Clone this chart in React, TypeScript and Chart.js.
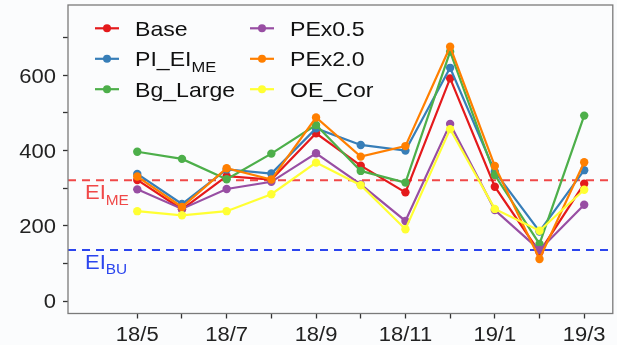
import React, { useEffect, useRef } from 'react';
import { Chart, registerables } from 'chart.js';

Chart.register(...registerables);

const months = ['18/5', '18/6', '18/7', '18/8', '18/9', '18/10', '18/11', '18/12', '19/1', '19/2', '19/3'];
const yTicks = [0, 100, 200, 300, 400, 500, 600, 700];

const base = [322, 244, 332, 323, 446, 360, 289, 592, 304, 130, 312];
const piEiMe = [338, 258, 350, 339, 459, 415, 400, 620, 344, 185, 348];
const bgLarge = [397, 378, 324, 392, 468, 346, 315, 663, 335, 152, 493];
const pex05 = [297, 245, 298, 317, 393, 310, 213, 471, 242, 136, 256];
const pex20 = [331, 250, 353, 323, 488, 384, 412, 676, 359, 112, 369];
const oeCor = [239, 228, 239, 284, 368, 308, 191, 457, 245, 187, 296];

const eiMe = 321;
const eiBu = 136;

const seriesNames = [
  [{ t: 'Base' }],
  [{ t: 'PI_EI' }, { t: 'ME', sub: true }],
  [{ t: 'Bg_Large' }],
  [{ t: 'PEx0.5' }],
  [{ t: 'PEx2.0' }],
  [{ t: 'OE_Cor' }],
];
const seriesData = [base, piEiMe, bgLarge, pex05, pex20, oeCor];
const seriesColors = ['#E41A1C', '#377EB8', '#4DAF4A', '#984EA3', '#FF7F00', '#FFFF33'];

const FONT = '"Liberation Sans", Arial, Helvetica, sans-serif';
const SX = 1.1;

function drawText(ctx: CanvasRenderingContext2D, text: string, x: number, y: number, size: number, color: string, align: CanvasTextAlign) {
  ctx.save();
  ctx.font = `${size}px ${FONT}`;
  ctx.fillStyle = color;
  ctx.textAlign = align;
  ctx.textBaseline = 'alphabetic';
  ctx.translate(x, y);
  ctx.scale(SX, 1);
  ctx.fillText(text, 0, 0);
  ctx.restore();
}

function drawRich(ctx: CanvasRenderingContext2D, segs: any[], x: number, y: number, size: number, subSize: number, color: string) {
  let cx = x;
  for (const s of segs) {
    const sz = s.sub ? subSize : size;
    const yy = s.sub ? y + size * 0.27 : y;
    drawText(ctx, s.t, cx, yy, sz, color, 'left');
    ctx.font = `${sz}px ${FONT}`;
    cx += ctx.measureText(s.t).width * SX;
  }
}

const overlay = {
  id: 'overlay',
  beforeDatasetsDraw(chart: any) {
    const { ctx, chartArea, scales } = chart;
    ctx.save();
    ctx.beginPath();
    ctx.rect(chartArea.left, chartArea.top, chartArea.right - chartArea.left, chartArea.bottom - chartArea.top);
    ctx.clip();
    ctx.lineWidth = 2;
    ctx.setLineDash([8, 6]);
    const lines: [number, string][] = [[eiMe, '#F04848'], [eiBu, '#2B45EE']];
    for (const [v, c] of lines) {
      const y = scales.y.getPixelForValue(v);
      ctx.strokeStyle = c;
      ctx.beginPath();
      ctx.moveTo(chartArea.left, y);
      ctx.lineTo(chartArea.right, y);
      ctx.stroke();
    }
    ctx.restore();
  },
  afterDraw(chart: any) {
    const { ctx, chartArea, scales } = chart;
    ctx.save();
    ctx.strokeStyle = '#7a7a7a';
    ctx.lineWidth = 1.3;
    ctx.setLineDash([]);
    ctx.strokeRect(chartArea.left, chartArea.top, chartArea.right - chartArea.left, chartArea.bottom - chartArea.top);

    // tick labels
    for (const v of yTicks) {
      if (v % 200 !== 0) continue;
      const y = scales.y.getPixelForValue(v);
      drawText(ctx, String(v), chartArea.left - 12, y + 7.2, 20, '#222', 'right');
    }
    months.forEach((m, i) => {
      if (i % 2 !== 0) return;
      const x = scales.x.getPixelForValue(i);
      drawText(ctx, m, x, chartArea.bottom + 27.5, 20, '#222', 'center');
    });

    const yMe = scales.y.getPixelForValue(eiMe);
    const yBu = scales.y.getPixelForValue(eiBu);
    drawRich(ctx, [{ t: 'EI' }, { t: 'ME', sub: true }], chartArea.left + 17, yMe + 19, 20, 14, '#F04848');
    drawRich(ctx, [{ t: 'EI' }, { t: 'BU', sub: true }], chartArea.left + 17, yBu + 19, 20, 14, '#2B45EE');

    const colX = [95, 250];
    const textX = [135, 290];
    const rowY = [28.3, 58.8, 89.2];
    for (let i = 0; i < seriesNames.length; i++) {
      const col = Math.floor(i / 3);
      const row = i % 3;
      const y = rowY[row];
      const x0 = colX[col];
      ctx.strokeStyle = seriesColors[i];
      ctx.lineWidth = 2.2;
      ctx.beginPath();
      ctx.moveTo(x0, y);
      ctx.lineTo(x0 + 24, y);
      ctx.stroke();
      ctx.fillStyle = seriesColors[i];
      ctx.beginPath();
      ctx.arc(x0 + 12, y, 4, 0, Math.PI * 2);
      ctx.fill();
      drawRich(ctx, seriesNames[i], textX[col], y + 7.6, 21, 15, '#111');
    }
    ctx.restore();
  },
};

export default function App() {
  const ref = useRef<HTMLCanvasElement>(null);
  useEffect(() => {
    document.body.style.margin = '0';
    document.body.style.background = '#fbfcfd';
    const datasets = seriesData.map((arr, i) => ({
      label: seriesNames[i].map((s: any) => s.t).join(''),
      data: arr.map((v, j) => ({ x: j, y: v })),
      borderColor: seriesColors[i],
      backgroundColor: seriesColors[i],
      borderWidth: 2.2,
      pointRadius: 4.2,
      pointBorderWidth: 0,
      pointHoverRadius: 4.2,
      order: seriesData.length - i,
      tension: 0,
    }));
    const chart = new Chart(ref.current!, {
      type: 'line',
      data: { datasets },
      options: {
        animation: false,
        responsive: false,
        maintainAspectRatio: false,
        layout: { padding: { top: 5, right: 1, left: 0, bottom: 0 } },
        plugins: { legend: { display: false }, tooltip: { enabled: false } },
        scales: {
          x: {
            type: 'linear',
            min: -1.55,
            max: 10.64,
            afterBuildTicks: (scale: any) => {
              scale.ticks = months.map((_, i) => ({ value: i }));
            },
            afterFit: (scale: any) => {
              scale.height = 31.5;
              scale.paddingLeft = 0;
              scale.paddingRight = 0;
            },
            grid: { drawOnChartArea: false, drawTicks: true, tickLength: 5, color: '#333', tickWidth: 1.3 },
            border: { display: false },
            ticks: {
              autoSkip: false,
              maxRotation: 0,
              minRotation: 0,
              padding: 3,
              color: 'rgba(0,0,0,0)',
              font: { family: FONT, size: 20 },
              callback: () => '',
            },
          },
          y: {
            type: 'linear',
            min: -33,
            max: 787,
            afterBuildTicks: (scale: any) => {
              scale.ticks = yTicks.map((v) => ({ value: v }));
            },
            afterFit: (scale: any) => {
              scale.width = 68;
              scale.paddingTop = 0;
              scale.paddingBottom = 0;
            },
            grid: { drawOnChartArea: false, drawTicks: true, tickLength: 5, color: '#333', tickWidth: 1.3 },
            border: { display: false },
            ticks: {
              padding: 7,
              color: 'rgba(0,0,0,0)',
              font: { family: FONT, size: 20 },
              callback: () => '',
            },
          },
        },
      },
      plugins: [overlay],
    });
    return () => chart.destroy();
  }, []);
  return (
    <div style={{ width: 617, height: 345, background: '#fbfcfd' }}>
      <canvas ref={ref} width={617} height={345} style={{ display: 'block', width: 617, height: 345 }} />
    </div>
  );
}
